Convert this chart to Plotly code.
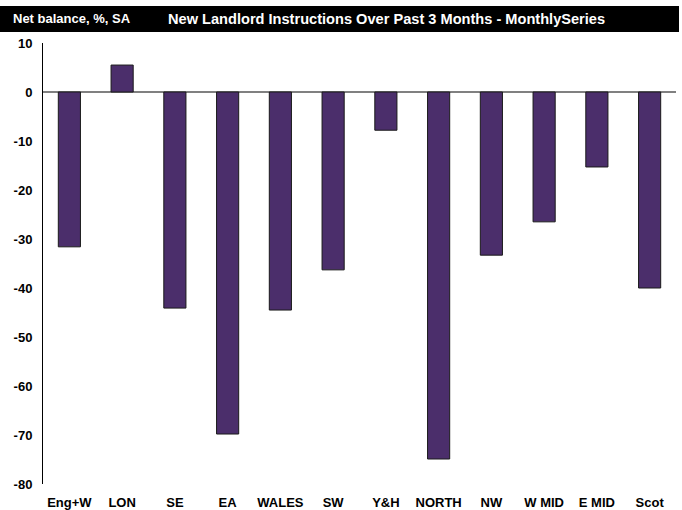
import plotly.graph_objects as go

categories = ["Eng+W", "LON", "SE", "EA", "WALES", "SW", "Y&H", "NORTH", "NW", "W MID", "E MID", "Scot"]
values = [-31.6, 5.5, -44.1, -69.8, -44.5, -36.3, -7.8, -74.9, -33.3, -26.5, -15.3, -40.0]
y_ticks = [10, 0, -10, -20, -30, -40, -50, -60, -70, -80]
left_title = "Net balance, %, SA"
main_title = "New Landlord Instructions Over Past 3 Months - MonthlySeries"

FONT = "Liberation Sans, Arial, sans-serif"

fig = go.Figure()
fig.add_trace(go.Bar(
    x=categories, y=values,
    marker=dict(color="#4B2E6B", line=dict(color="#1a1a1a", width=1)),
    width=0.42,
))

W, H = 682, 510
ml, mr, mt, mb = 43, 6, 43, 26
fig.update_layout(
    width=W, height=H,
    margin=dict(l=ml, r=mr, t=mt, b=mb, autoexpand=False),
    plot_bgcolor="white", paper_bgcolor="white",
    showlegend=False,
    font=dict(family=FONT, size=13, color="black"),
    xaxis=dict(showline=False, ticks="", showgrid=False, zeroline=False, automargin=False,
               tickfont=dict(family=FONT, size=13, color="black", weight="bold"),
               range=[-0.5, 11.5], ticklabelstandoff=9),
    yaxis=dict(range=[-80, 10], tickvals=y_ticks, ticktext=[str(v) for v in y_ticks],
               showgrid=False, zeroline=True, zerolinecolor="#808080", zerolinewidth=1.5,
               showline=True, linecolor="black", linewidth=1, ticks="", automargin=False,
               tickfont=dict(family=FONT, size=13, color="black", weight="bold"),
               ticklabelstandoff=7),
)

# header bar
pw = W - ml - mr
ph = H - mt - mb
fig.add_shape(type="rect", xref="paper", yref="paper",
              x0=-ml / pw, x1=(679 - ml) / pw,
              y0=1 + (mt - 32) / ph, y1=1 + (mt - 6) / ph,
              fillcolor="black", line=dict(width=0), layer="above")
fig.add_annotation(xref="paper", yref="paper",
                   x=(11 - ml) / pw, y=1 + (mt - 19) / ph,
                   text=left_title, showarrow=False, xanchor="left", yanchor="middle",
                   font=dict(family=FONT, size=13, color="white", weight="bold"))
fig.add_annotation(xref="paper", yref="paper",
                   x=(166 - ml) / pw, y=1 + (mt - 19) / ph,
                   text=main_title, showarrow=False, xanchor="left", yanchor="middle",
                   font=dict(family=FONT, size=14.6, color="white", weight="bold"))

fig.write_html("out.html", post_script="document.body.style.margin='0';",
               config={"displayModeBar": False})
